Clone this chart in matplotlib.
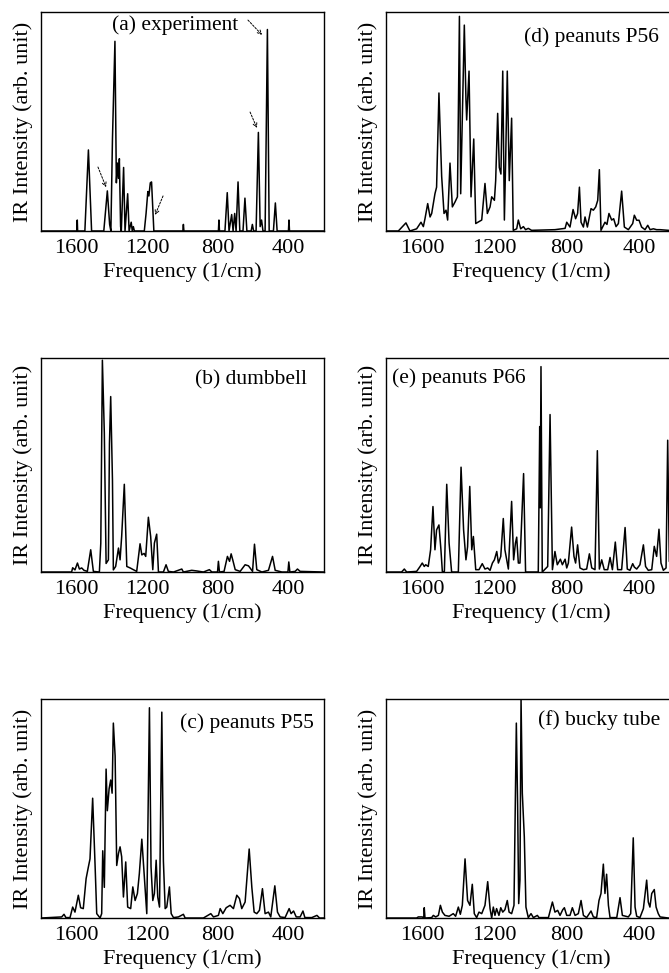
import matplotlib
matplotlib.use('Agg')
import matplotlib.pyplot as plt

plt.rcParams['font.family'] = ['Liberation Serif', 'DejaVu Serif']

# spectra: frequency (1/cm) and intensity (arb. unit, 0-100)
freq_a = [1800, 1597, 1595, 1593, 1552, 1532, 1514, 1445, 1425, 1412, 1405, 1396, 1382,
          1374, 1368, 1362, 1357, 1350, 1346, 1333, 1325, 1310, 1302, 1290, 1284, 1278,
          1272, 1216, 1206, 1196, 1190, 1182, 1175, 1162, 998, 995, 992, 797, 794, 791,
          760, 747, 737, 722, 714, 705, 697, 686, 676, 658, 647, 636, 612, 605, 598, 584,
          571, 561, 553, 545, 533, 520, 510, 486, 475, 465, 401, 398, 395, 200]
int_a = [0, 0, 5, 0, 0, 37, 0, 0, 18.3, 3, 0, 42, 86.6,
         22, 31, 24, 33, 2, 0, 29, 0, 17, 0, 4, 0, 2,
         0, 0, 8, 18, 16, 22, 22.4, 0, 0, 3, 0, 0, 5, 0,
         0, 17.5, 0, 7.5, 0, 8, 0, 22.4, 0, 0, 15, 0, 0, 3, 0, 0,
         45, 2, 5, 0, 0, 92, 0, 0, 12.8, 0, 0, 5, 0, 0]

freq_b = [1800, 1627, 1621, 1608, 1594, 1583, 1570, 1557, 1538, 1519, 1504, 1470, 1462,
          1453, 1442, 1432, 1419, 1413, 1406, 1396, 1391, 1378, 1362, 1353, 1344, 1329,
          1315, 1296, 1278, 1259, 1240, 1230, 1217, 1208, 1193, 1180, 1168, 1159, 1146,
          1136, 1108, 1093, 1080, 1051, 1004, 995, 948, 919, 882, 848, 834, 802, 797, 791,
          765, 746, 734, 725, 716, 702, 674, 646, 627, 618, 604, 593, 580, 551, 514, 491,
          476, 438, 404, 399, 393, 363, 350, 335, 200]
int_b = [0, 0, 2, 1, 4.2, 1.4, 1.9, 0.8, 0.3, 10.4, 0.3, 0, 13.5,
         99, 65, 4, 5.7, 60, 82, 43, 1, 2.6, 11.2, 5.7, 16.6, 41,
         2.6, 1.9, 1.1, 0.3, 13.2, 8, 8.7, 7.3, 25.6, 16.6, 1.1, 13.5, 17.7,
         0, 0, 3.4, 0.3, 0, 1.4, 0, 0.8, 0.5, 0, 1.1, 0, 0, 5, 0,
         0.3, 7.3, 5, 8.5, 5.7, 1.1, 0.3, 3.4, 2.9, 1.9, 0.3, 13, 1.1, 0, 0.8, 7.3,
         0.8, 0, 0, 4.7, 0, 0.3, 1.4, 0.3, 0]

freq_c = [1800, 1683, 1670, 1659, 1636, 1621, 1608, 1589, 1576, 1561, 1545, 1532, 1523,
          1508, 1494, 1485, 1466, 1457, 1451, 1442, 1432, 1425, 1415, 1406, 1398, 1391,
          1381, 1372, 1362, 1353, 1344, 1334, 1321, 1310, 1293, 1281, 1268, 1255, 1244,
          1230, 1217, 1202, 1187, 1178, 1168, 1159, 1149, 1140, 1130, 1117, 1108, 1098,
          1089, 1074, 1064, 1051, 1023, 995, 985, 882, 840, 825, 797, 787, 772, 753, 731,
          712, 693, 678, 665, 646, 623, 608, 595, 580, 565, 548, 533, 514, 501, 478, 463,
          448, 420, 397, 386, 372, 357, 335, 319, 308, 269, 240, 225, 200]
int_c = [0, 0.5, 1.7, 0.2, 0.2, 5, 2.7, 10.4, 4.7, 4.3, 18, 23.4, 27,
         54.7, 23.4, 2, 0, 2, 30.7, 14, 68, 49, 59, 63, 57, 89,
         74, 24, 29.5, 32.5, 28, 9.6, 25.6, 5, 4.3, 14.2, 8, 11.2, 20.3,
         36, 20.3, 2, 96, 23.4, 8, 11.2, 26.4, 9.6, 5, 94, 26, 4.3,
         5, 14.2, 2, 0.2, 0.5, 1.7, 0, 0, 2, 0.5, 1.2, 4.3, 2, 4.7, 5.8,
         4.3, 10.4, 8.9, 4.3, 7.3, 31.5, 14, 2.7, 2, 3.5, 13.4, 2, 2.7, 0.5, 14.7, 2.7,
         0.5, 0.2, 4.3, 2, 3.2, 0.5, 0.5, 3.2, 0.2, 0.2, 1.2, 0, 0]

freq_d = [1800, 1732, 1690, 1668, 1631, 1607, 1594, 1585, 1570, 1557, 1548, 1530, 1521,
          1508, 1493, 1480, 1469, 1460, 1447, 1434, 1419, 1406, 1395, 1388, 1368, 1359,
          1355, 1342, 1331, 1316, 1305, 1291, 1272, 1254, 1241, 1226, 1217, 1202, 1195,
          1184, 1175, 1166, 1156, 1147, 1140, 1131, 1120, 1107, 1098, 1079, 1070, 1057,
          1042, 1030, 1015, 997, 868, 812, 803, 785, 768, 754, 743, 733, 724, 711, 702,
          689, 669, 656, 643, 632, 623, 614, 592, 581, 570, 555, 544, 531, 518, 500, 485,
          463, 439, 430, 417, 404, 390, 371, 356, 343, 325, 307, 288, 242, 200]
int_d = [0, 0, 3.7, 0, 1, 4, 2, 5.6, 12.5, 6.4, 8, 17, 20,
         63, 25, 8, 9.5, 5, 31, 11, 13.3, 15.6, 98, 17, 94, 60,
         50.7, 73, 15.6, 42, 3.4, 4.1, 5, 21.7, 8, 11, 15.6, 14, 23,
         53.7, 29, 26, 73, 5, 32, 73, 23, 51.5, 0.3, 1, 5, 1,
         2, 0.6, 1.2, 0.3, 0.6, 1.2, 4, 1.8, 9.8, 5.6, 8, 20, 4, 1.8, 6.4,
         1.8, 10.2, 9.5, 11, 14, 28, 0.3, 4, 3, 8, 5, 5.6, 2, 3.4, 18.2, 1.8,
         0.6, 3.4, 7.2, 4.9, 4.9, 1.8, 0.6, 2.6, 0.6, 1, 0.6, 0.6, 0.3, 0]

freq_e = [1800, 1714, 1699, 1686, 1631, 1612, 1600, 1589, 1581, 1567, 1554, 1541, 1530,
          1521, 1508, 1497, 1489, 1478, 1465, 1452, 1438, 1401, 1386, 1372, 1359, 1350,
          1338, 1327, 1318, 1305, 1287, 1269, 1254, 1239, 1226, 1213, 1202, 1189, 1180,
          1167, 1153, 1144, 1125, 1107, 1096, 1086, 1079, 1070, 1061, 1041, 1030, 960,
          952, 949, 945, 938, 908, 895, 882, 868, 855, 838, 827, 812, 803, 794, 776, 763,
          754, 743, 730, 711, 693, 678, 665, 647, 634, 623, 610, 596, 577, 564, 551, 535,
          522, 500, 481, 469, 454, 439, 430, 417, 399, 380, 368, 353, 334, 320, 307, 294,
          283, 270, 255, 246, 237, 200]
int_e = [0, 0, 1.4, 0, 0.3, 2.6, 4.2, 2.6, 3.4, 2.6, 10.4, 30.6, 10.4,
         19.7, 22, 10.4, 0, 0.3, 41, 13.5, 0, 0, 49, 19.7, 5.7, 11.8,
         40, 10.4, 16.6, 1.1, 1.1, 3.9, 1.4, 1.9, 0.8, 4.2, 5.7, 9.6, 4.2,
         7.3, 25, 10.4, 1.4, 33, 5.7, 13.5, 16.3, 4.2, 4.2, 46, 0, 0,
         68, 30, 96, 0, 2.6, 73.6, 1.1, 9.6, 3.4, 6, 3.4, 6, 1.9, 4.2, 21, 7.3,
         4.2, 12.7, 1.9, 1.1, 1.4, 8.5, 1.9, 1.1, 56.7, 1.4, 5.7, 1.1, 1.1, 6.8, 1.1, 14,
         1.1, 1.1, 20.8, 1.4, 0.8, 3.9, 2.3, 1.4, 3.4, 12.7, 2.6, 0.8, 1.1, 12, 7.3, 20,
         4.2, 0.8, 1.9, 61.6, 5, 0]

freq_f = [1800, 1631, 1622, 1600, 1592, 1589, 1585, 1548, 1539, 1526, 1511, 1500, 1489,
          1475, 1452, 1429, 1416, 1401, 1390, 1379, 1364, 1350, 1337, 1324, 1313, 1300,
          1287, 1272, 1254, 1239, 1226, 1217, 1208, 1199, 1190, 1177, 1167, 1156, 1144,
          1131, 1121, 1107, 1094, 1081, 1074, 1068, 1061, 1055, 1048, 1037, 1028, 1015,
          1000, 987, 965, 956, 904, 882, 868, 853, 840, 825, 816, 803, 785, 772, 757, 739,
          724, 711, 693, 669, 656, 638, 625, 614, 601, 592, 583, 573, 564, 527, 509, 496,
          463, 450, 436, 426, 417, 399, 380, 362, 353, 344, 334, 320, 310, 298, 288, 242, 200]
int_f = [0, 0, 0.5, 0.5, 0, 4.7, 0, 0.2, 1.2, 0.5, 1.2, 5.8, 2.7,
         1.2, 0.8, 2, 0.8, 5, 1.7, 5.8, 27, 8, 5.8, 15.4, 2, 0.2,
         2.7, 2, 5.8, 16.6, 4.3, 0, 5, 1.2, 4.3, 1.2, 4.7, 2.7, 3.8,
         8, 2.7, 2, 5.8, 89, 52, 6.6, 17.4, 100, 57, 37, 5, 0.2,
         2, 0.2, 1.2, 0.2, 0.2, 7.3, 2.7, 3.5, 1.2, 3.8, 4.7, 1.2, 1.2, 4.7, 1.2, 2,
         8, 1.2, 0.2, 3.2, 0.5, 0.2, 8, 11.2, 24.6, 11.2, 20, 5.8, 0.2, 0.2, 9.3, 1.2,
         0.5, 2, 36.6, 5, 0.8, 0.2, 4.3, 17.3, 7.3, 5, 11.2, 13, 5, 2, 0.5, 0, 0]

labels = ['(a) experiment', '(b) dumbbell', '(c) peanuts P55',
          '(d) peanuts P56', '(e) peanuts P66', '(f) bucky tube']
xticks = [1600, 1200, 800, 400]

fig = plt.figure(figsize=(6.69, 9.73), dpi=100)

# axes boxes in figure fractions (left col, right col runs past the edge)
lefts = [0.0613, 0.577]
widths = [0.423, 0.4335]
bottoms = [0.7626, 0.4121, 0.0565]
heights = [0.2251, 0.2199, 0.2251]

data = [(freq_a, int_a), (freq_b, int_b), (freq_c, int_c),
        (freq_d, int_d), (freq_e, int_e), (freq_f, int_f)]
label_pos = [(0.473, 0.94, 'center'), (0.742, 0.897, 'center'), (0.728, 0.89, 'center'),
             (0.708, 0.886, 'center'), (0.02, 0.906, 'left'), (0.736, 0.904, 'center')]

axes = []
for k in range(6):
    col, row = k // 3, k % 3
    ax = fig.add_axes([lefts[col], bottoms[row], widths[col], heights[row]])
    f, y = data[k]
    ax.plot(f, y, color='black', lw=1.1)
    ax.set_xlim(1800, 200)
    ax.set_ylim(0, 100)
    ax.set_xticks(xticks)
    ax.set_yticks([])
    ax.tick_params(axis='x', length=0, pad=5.5, labelsize=16)
    ax.set_xlabel('Frequency (1/cm)', fontsize=16, labelpad=3)
    ax.set_ylabel('IR Intensity (arb. unit)', fontsize=16, labelpad=6)
    for s in ax.spines.values():
        s.set_linewidth(1.0)
    lx, ly, ha = label_pos[k]
    ax.text(lx, ly, labels[k], transform=ax.transAxes, ha=ha, va='center', fontsize=15.5)
    axes.append(ax)

# dashed arrows in the experiment panel
arrows = [((630, 96.3), (550, 89.5)), ((618, 54.3), (579, 47)),
          ((1478, 29.2), (1432, 20)), ((1110, 16), (1155, 7.3))]
for start, end in arrows:
    axes[0].annotate('', xy=end, xytext=start,
                     arrowprops=dict(arrowstyle='->', lw=0.7, ls=(0, (2, 1.5)),
                                     shrinkA=0, shrinkB=0, mutation_scale=7))

plt.savefig('out.png', dpi=100)
